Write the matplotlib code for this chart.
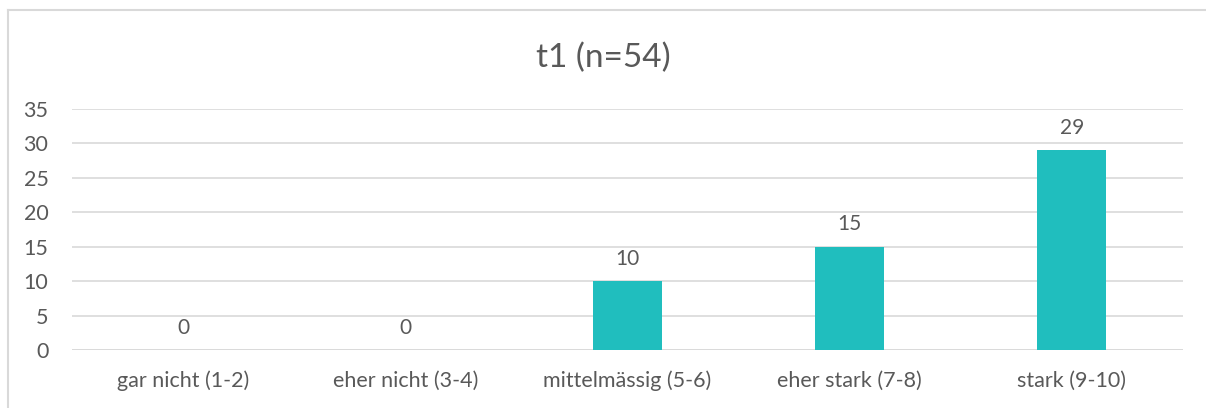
import matplotlib.pyplot as plt
from matplotlib.lines import Line2D

categories = ["gar nicht (1-2)", "eher nicht (3-4)", "mittelmässig (5-6)", "eher stark (7-8)", "stark (9-10)"]
counts = [0, 0, 10, 15, 29]
yticks = [0, 5, 10, 15, 20, 25, 30, 35]

plt.rcParams['font.family'] = ['Lato', 'DejaVu Sans']
text_col = '#595959'
bar_col = '#20BEBE'
grid_col = '#D9D9D9'

fig = plt.figure(figsize=(12.06, 4.08), dpi=100)
ax = fig.add_axes([72/1206, 1 - 350/408, (1183 - 72)/1206, (350 - 109)/408])

x = range(len(categories))
bars = ax.bar(x, counts, width=0.31, color=bar_col, zorder=3)
for b, v in zip(bars, counts):
    ax.annotate(str(v), (b.get_x() + b.get_width()/2, v), xytext=(0, 9),
                textcoords='offset points', ha='center', va='bottom',
                fontsize=15, color=text_col)

ax.set_xlim(-0.5, len(categories) - 0.5)
ax.set_ylim(0, 35)
ax.set_yticks(yticks)
ax.set_xticks(list(x))
ax.set_xticklabels(categories)
ax.tick_params(axis='both', length=0, labelsize=15.5, labelcolor=text_col)
ax.tick_params(axis='x', pad=15)
ax.tick_params(axis='y', pad=17)
ax.grid(axis='y', color=grid_col, linewidth=1.2, zorder=0)
for s in ax.spines.values():
    s.set_visible(False)
ax.axhline(0, color=grid_col, linewidth=1.2, zorder=2)

fig.text(0.5, 1 - 58/408, "t1 (n=54)", ha='center', va='center', fontsize=24, color=text_col)

# chart border (only top and left visible in the crop)
fig.add_artist(Line2D([8/1206, 8/1206], [0, 1 - 10/408], transform=fig.transFigure, color=grid_col, linewidth=1.5))
fig.add_artist(Line2D([8/1206, 1], [1 - 10/408, 1 - 10/408], transform=fig.transFigure, color=grid_col, linewidth=1.5))

fig.savefig('out.png', dpi=100, facecolor='white')
